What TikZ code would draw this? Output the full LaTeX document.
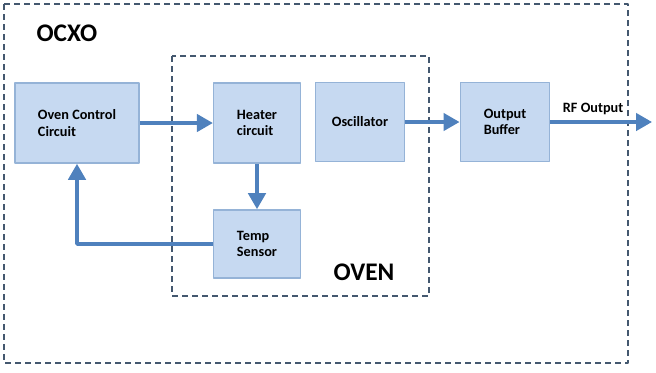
\documentclass[tikz,border=0pt]{standalone}
\usepackage{fontspec}
\setmainfont{Carlito}
\usetikzlibrary{arrows.meta}
\definecolor{boxfill}{HTML}{C6D9F1}
\definecolor{boxline}{HTML}{95B3D7}
\definecolor{flow}{HTML}{4F81BD}
\definecolor{frame}{HTML}{44586F}
\begin{document}
\begin{tikzpicture}[x=0.75pt, y=-0.75pt, font=\bfseries\fontsize{10.7}{12.5}\selectfont, line join=round,
	block/.style={draw=boxline, fill=boxfill, line width=1.2pt, align=left, inner sep=0pt},
	flowline/.style={draw=flow, line width=2.6pt, -{Triangle[length=12pt,width=13pt]}},
	fence/.style={draw=frame, line width=1.1pt, dash pattern=on 4.5pt off 3pt}]
		\useasboundingbox (0,0) rectangle (656,372);
		% dashed enclosures
		\draw[fence] (4,4) rectangle (628,363);
		\draw[fence] (172,56) rectangle (429,296);
		\node[font=\bfseries\fontsize{19}{21}\selectfont] (ocxo) at (67,33) {OCXO};
		\node[font=\bfseries\fontsize{19}{21}\selectfont] (oven) at (364,272) {OVEN};
		% blocks
		\node[block, minimum width=93pt, minimum height=60pt] (ctrl) at (77,123) {Oven Control\\Circuit};
		\node[block, minimum width=65pt, minimum height=60pt] (heat) at (257,123) {Heater\\circuit};
		\node[block, minimum width=67pt, minimum height=59pt] (osc) at (360,122) {Oscillator};
		\node[block, minimum width=67pt, minimum height=59pt] (buf) at (505,122) {Output\\Buffer};
		\node[block, minimum width=65pt, minimum height=51pt] (temp) at (257,244) {Temp\\Sensor};
		\coordinate (rf) at (652,122);
		% connectors
		\draw[flowline] (ctrl) -- (heat);
		\draw[flowline] (osc) -- (buf);
		\draw[flowline] (buf) -- (rf) node[pos=0.42, above=1pt, black] (rflabel) {RF Output};
		\draw[flowline] (heat) -- (temp);
		\draw[flowline] (temp.west) -| (ctrl.south);
	\end{tikzpicture}
\end{document}
